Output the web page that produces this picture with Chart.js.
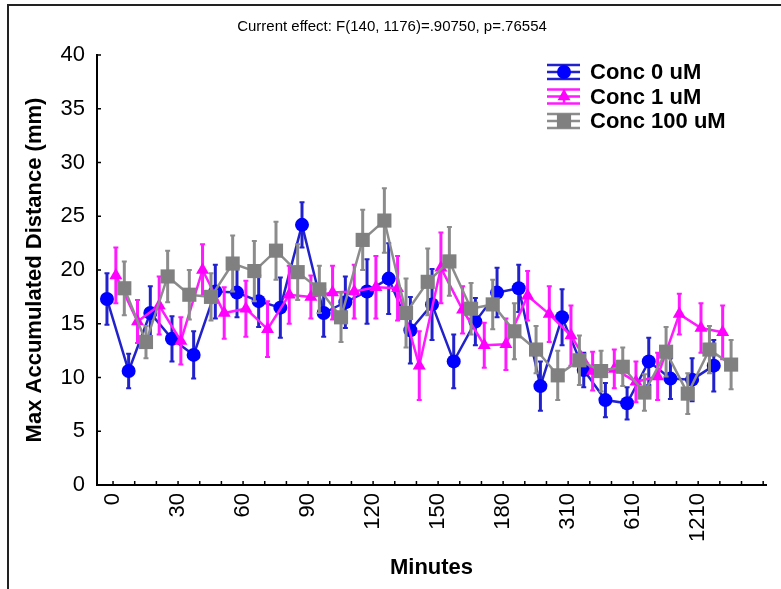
<!DOCTYPE html>
<html>
<head>
<meta charset="utf-8">
<script src="https://cdn.jsdelivr.net/npm/chart.js@4.4.1/dist/chart.umd.min.js"></script>
<style>
  html, body { margin: 0; padding: 0; background: #fff; }
  #wrap { position: relative; width: 781px; height: 589px; overflow: hidden; }
  #frame { position: absolute; left: 7px; top: 4px; width: 800px; height: 600px;
           border-left: 2px solid #222; border-top: 2px solid #222; }
  canvas { position: absolute; left: 0; top: 0; }
</style>
</head>
<body>
<div id="wrap">
  <div id="frame"></div>
  <canvas id="chart" width="781" height="589"></canvas>
</div>
<script>
// x axis: one tick per time point, every third one is labelled
const tickLabels = ['0', '30', '60', '90', '120', '150', '180', '310', '610', '1210'];
const labelEvery = 3;

const seriesNames = ['Conc 0 uM', 'Conc 1 uM', 'Conc 100 uM'];

const conc0 = [17.3, 10.6, 16.0, 13.6, 12.1, 18.0, 17.9, 17.1, 16.5, 24.2, 16.0, 17.0, 18.0, 19.2, 14.4,
  16.8, 11.5, 15.2, 17.9, 18.3, 9.2, 15.6, 10.7, 7.9, 7.6, 11.5, 9.9, 9.8, 11.1];
const conc0Err = [2.4, 1.6, 2.5, 2.1, 2.2, 2.5, 2.3, 2.4, 2.8, 2.1, 2.2, 2.4, 3.0, 3.3, 3.1,
  3.3, 2.5, 2.2, 2.3, 2.2, 2.3, 2.6, 1.6, 1.6, 1.5, 2.2, 1.9, 2.0, 2.4];

const conc1 = [19.5, 15.2, 16.7, 13.4, 20.0, 16.0, 16.4, 14.5, 17.7, 17.5, 17.9, 18.0, 18.4, 18.3, 11.1,
  20.2, 16.3, 13.0, 13.1, 17.6, 15.9, 13.9, 10.6, 10.8, 9.6, 10.1, 15.9, 14.6, 14.2];
const conc1Err = [2.6, 2.0, 2.7, 2.2, 2.4, 2.4, 2.6, 2.6, 2.7, 2.0, 2.5, 2.5, 2.9, 3.0, 3.2,
  3.3, 2.2, 2.1, 2.4, 2.3, 2.6, 2.8, 1.8, 1.8, 1.9, 2.2, 1.9, 2.3, 2.5];

const conc100 = [18.3, 13.3, 19.4, 17.7, 17.5, 20.6, 19.9, 21.8, 19.8, 18.2, 15.6, 22.8, 24.6, 16.0, 18.9,
  20.8, 16.4, 16.8, 14.3, 12.6, 10.2, 11.6, 10.6, 11.0, 8.6, 12.4, 8.5, 12.6, 11.2];
const conc100Err = [2.5, 1.5, 2.4, 2.3, 2.2, 2.6, 2.8, 2.7, 2.6, 2.2, 2.3, 2.8, 3.0, 3.2, 3.1,
  3.2, 2.4, 2.3, 2.6, 2.2, 2.3, 2.3, 1.9, 1.8, 1.7, 2.3, 1.9, 2.2, 2.3];

const FONT = 'Arial, "Liberation Sans", sans-serif';

// horizontal nudge of each series around its tick, like the original plot
const nudge = [-0.28, 0.13, 0.52];

function toPoints(values, shift) {
  return values.map((v, i) => ({ x: i + shift, y: v }));
}

// vertical error bars, drawn right under each series
const errorBars = {
  id: 'errorBars',
  beforeDatasetDraw(chart, args) {
    const ds = chart.data.datasets[args.index];
    const yScale = chart.scales.y;
    const ctx = chart.ctx;
    ctx.save();
    ctx.strokeStyle = ds.borderColor;
    args.meta.data.forEach((pt, i) => {
      const v = ds.data[i].y;
      const e = ds.errors[i];
      const top = yScale.getPixelForValue(v + e);
      const bot = yScale.getPixelForValue(v - e);
      ctx.lineWidth = 3;
      ctx.beginPath();
      ctx.moveTo(pt.x, top);
      ctx.lineTo(pt.x, bot);
      ctx.stroke();
      ctx.lineWidth = 2;
      ctx.beginPath();
      ctx.moveTo(pt.x - 2.5, top); ctx.lineTo(pt.x + 2.5, top);
      ctx.moveTo(pt.x - 2.5, bot); ctx.lineTo(pt.x + 2.5, bot);
      ctx.stroke();
    });
    ctx.restore();
  }
};

// short tick marks pointing into the plot
const innerTicks = {
  id: 'innerTicks',
  afterDraw(chart) {
    const ctx = chart.ctx;
    const { x, y } = chart.scales;
    const area = chart.chartArea;
    ctx.save();
    ctx.strokeStyle = '#000';
    ctx.lineWidth = 1.5;
    ctx.beginPath();
    y.ticks.forEach(t => {
      const py = y.getPixelForValue(t.value);
      ctx.moveTo(area.left, py);
      ctx.lineTo(area.left + 4, py);
    });
    x.ticks.forEach(t => {
      const px = x.getPixelForValue(t.value);
      ctx.moveTo(px, area.bottom);
      ctx.lineTo(px, area.bottom - 4);
    });
    ctx.stroke();
    ctx.restore();
  }
};

// legend in the upper right, with the error-bar style symbol
const boxLegend = {
  id: 'boxLegend',
  afterDraw(chart) {
    const ctx = chart.ctx;
    ctx.save();
    chart.data.datasets.forEach((ds, i) => {
      const cy = 72 + i * 24.5;
      const x0 = 547, x1 = 580, cx = 564;
      ctx.strokeStyle = ds.borderColor;
      ctx.lineWidth = 2.5;
      ctx.beginPath();
      ctx.moveTo(x0, cy); ctx.lineTo(x1, cy);
      ctx.moveTo(x0, cy - 7); ctx.lineTo(x1, cy - 7);
      ctx.moveTo(x0, cy + 7); ctx.lineTo(x1, cy + 7);
      ctx.moveTo(cx, cy - 7); ctx.lineTo(cx, cy + 7);
      ctx.stroke();
      ctx.fillStyle = ds.pointBackgroundColor;
      Chart.helpers.drawPoint(ctx, {
        pointStyle: ds.pointStyle, radius: ds.pointRadius, rotation: 0, borderWidth: 0
      }, cx, cy);
      ctx.fillStyle = '#000';
      ctx.font = 'bold 22px ' + FONT;
      ctx.textAlign = 'left';
      ctx.textBaseline = 'middle';
      ctx.fillText(ds.label, 590, cy + 1);
    });
    ctx.restore();
  }
};

const ctx = document.getElementById('chart').getContext('2d');

new Chart(ctx, {
  type: 'line',
  data: {
    datasets: [
      {
        label: seriesNames[0],
        data: toPoints(conc0, nudge[0]),
        errors: conc0Err,
        borderColor: '#2222cc',
        pointBackgroundColor: '#0000ff',
        pointStyle: 'circle',
        pointRadius: 7,
        order: 3,
      },
      {
        label: seriesNames[1],
        data: toPoints(conc1, nudge[1]),
        errors: conc1Err,
        borderColor: '#ff1aff',
        pointBackgroundColor: '#ff00ff',
        pointStyle: 'triangle',
        pointRadius: 7.5,
        order: 2,
      },
      {
        label: seriesNames[2],
        data: toPoints(conc100, nudge[2]),
        errors: conc100Err,
        borderColor: '#8c8c8c',
        pointBackgroundColor: '#808080',
        pointStyle: 'rect',
        pointRadius: 10,
        order: 1,
      },
    ].map(d => Object.assign(d, {
      borderWidth: 2.5,
      tension: 0,
      pointBorderWidth: 0,
      pointHoverRadius: d.pointRadius,
      clip: false,
    })),
  },
  options: {
    responsive: false,
    animation: false,
    events: [],
    layout: { padding: { left: 18, right: 15, top: 0, bottom: 4 } },
    plugins: {
      legend: { display: false },
      tooltip: { enabled: false },
      title: {
        display: true,
        text: 'Current effect: F(140, 1176)=.90750, p=.76554',
        color: '#000',
        font: { size: 15, weight: 'normal', family: FONT },
        padding: { top: 18, bottom: 19 },
      },
    },
    scales: {
      x: {
        type: 'linear',
        min: -0.74,
        max: 30.13,
        afterBuildTicks(scale) {
          const t = [];
          for (let i = 0; i <= 30; i++) t.push({ value: i });
          scale.ticks = t;
        },
        afterFit(scale) {
          scale.height = 100;
          scale.paddingLeft = 0;
          scale.paddingRight = 0;
        },
        ticks: {
          autoSkip: false,
          minRotation: 90,
          maxRotation: 90,
          padding: 8,
          color: '#000',
          font: { size: 22, family: FONT },
          callback: (v) => (v % labelEvery === 0 ? (tickLabels[v / labelEvery] || '') : ''),
        },
        grid: { drawOnChartArea: false, drawTicks: false },
        border: { color: '#000', width: 2 },
        title: {
          display: true,
          text: 'Minutes',
          color: '#000',
          font: { size: 22, weight: 'bold', family: FONT },
          padding: { top: 4, bottom: 4 },
        },
      },
      y: {
        min: 0,
        max: 40,
        afterFit(scale) { scale.width = 79; },
        ticks: {
          stepSize: 5,
          padding: 12,
          color: '#000',
          font: { size: 22, family: FONT },
        },
        grid: { drawOnChartArea: false, drawTicks: false },
        border: { color: '#000', width: 2 },
        title: {
          display: true,
          text: 'Max Accumulated Distance (mm)',
          color: '#000',
          font: { size: 22, weight: 'bold', family: FONT },
          padding: { top: 4, bottom: 4 },
        },
      },
    },
  },
  plugins: [errorBars, innerTicks, boxLegend],
});
</script>
</body>
</html>
